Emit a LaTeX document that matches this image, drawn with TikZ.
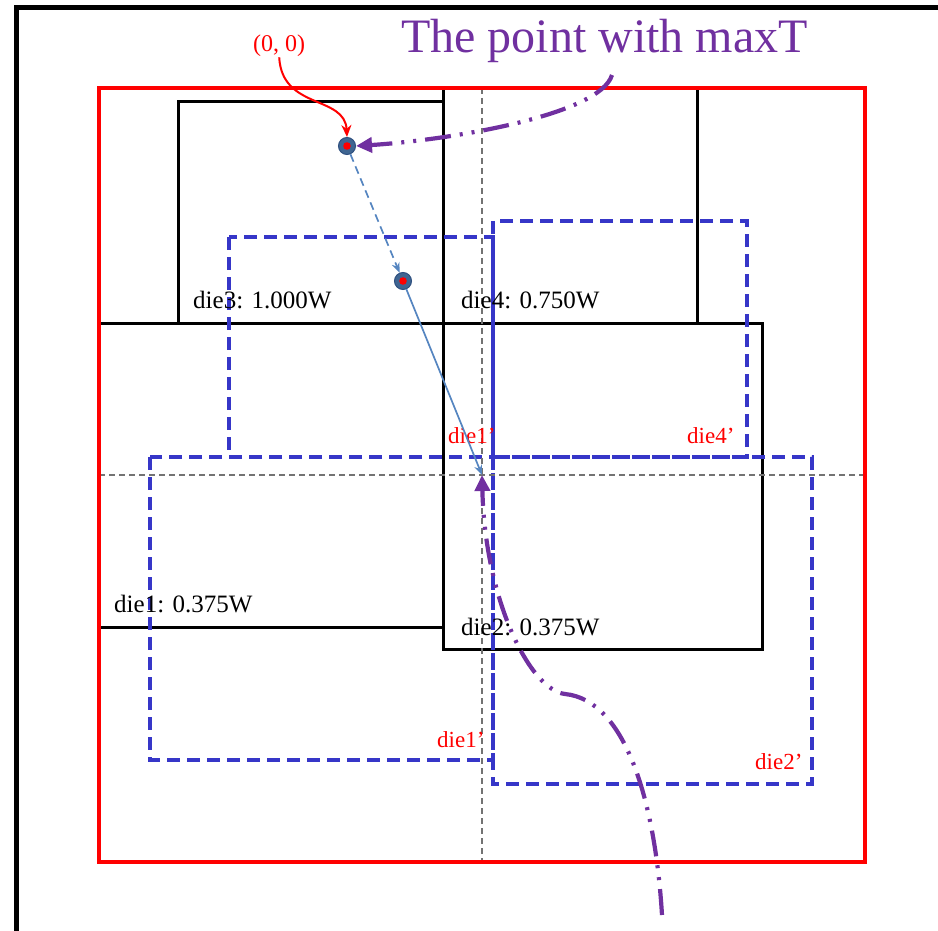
\documentclass[tikz,border=0pt]{standalone}
\usepackage{fontspec}
\setmainfont{Liberation Serif}
\usetikzlibrary{arrows.meta}
\definecolor{maxpurple}{HTML}{7030A0}
\definecolor{shiftblue}{HTML}{3636C8}
\definecolor{pathblue}{HTML}{5585C0}
\definecolor{spotfill}{HTML}{3F6591}
\definecolor{spotline}{HTML}{2F5080}

\begin{document}
\begin{tikzpicture}[
  x=1pt, y=-1pt,
  %--- shared styles ----------------------------------------------
  die/.style={draw=black, line width=3pt},
  shifted/.style={draw=shiftblue, line width=3.2pt,
    dash pattern=on 13pt off 7pt},
  axis/.style={draw=black!55, line width=1.4pt,
    dash pattern=on 6pt off 4pt},
  lbl/.style={anchor=base west, inner sep=0pt,
    font=\fontsize{25}{29}\selectfont},
  tag/.style={anchor=base west, inner sep=0pt, text=red,
    font=\fontsize{23}{27}\selectfont},
  spot/.style={circle, fill=spotfill, draw=spotline, line width=1pt,
    minimum size=17pt, inner sep=0pt},
  move/.style={pathblue, line width=1.7pt,
    -{Stealth[length=10pt,width=8pt]}},
  callout/.style={maxpurple, line width=4.2pt,
    dash pattern=on 26pt off 9pt on 3pt off 9pt on 3pt off 9pt,
    -{Triangle[length=16pt,width=15pt]}},
]
\useasboundingbox (0,0) rectangle (938,931);

%% --- outer frame (top and left only) ----------------------------
\draw[line width=5pt] (938,8) -- (16,8) -- (16,931);

%% --- dies --------------------------------------------------------
\draw[die] (178,102) rectangle (443,323);
\draw[die] (443,88)  rectangle (697,323);
\draw[die] (99,323)  rectangle (443,627);
\draw[die] (443,323) rectangle (762,649);

%% --- shifted dies (dashed) --------------------------------------
\draw[shifted] (229,237) rectangle (493,457);
\draw[shifted] (493,221) rectangle (747,457);
\draw[shifted] (150,457) rectangle (493,760);
\draw[shifted] (493,457) rectangle (812,784);

%% --- centre lines -----------------------------------------------
\draw[axis] (482,88) -- (482,862);
\draw[axis] (99,475) -- (865,475);
\coordinate (center) at (482,475);

%% --- interposer outline -----------------------------------------
\draw[red, line width=4.6pt] (99,88) rectangle (865,862);

%% --- die labels ---------------------------------------------------
\node[lbl] (d3) at (193,308) {die3: 1.000W};
\node[lbl] (d4) at (461,308) {die4: 0.750W};
\node[lbl] (d1) at (114,612) {die1: 0.375W};
\node[lbl] (d2) at (461,635) {die2: 0.375W};

\node[tag] (t3) at (448,443) {die1’};
\node[tag] (t4) at (687,443) {die4’};
\node[tag] (t1) at (437,747) {die1’};
\node[tag] (t2) at (755,769) {die2’};

\node[tag, font=\fontsize{24}{28}\selectfont] (origin) at (253,52) {(0, 0)};
\node[anchor=base west, inner sep=0pt, text=maxpurple,
  font=\fontsize{48}{55}\selectfont] (maxT) at (401,53) {The point with maxT};

%% --- points -------------------------------------------------------
\node[spot] (p0) at (347,146) {};
\node[spot] (p1) at (403,281) {};
\fill[red] (p0.center) circle (3.8);
\fill[red] (p1.center) circle (3.8);

%% --- arrows -------------------------------------------------------
% p0 -> p1 (dashed), p1 -> centre
\draw[move, dash pattern=on 8pt off 5pt] (p0) -- (p1);
\draw[move] (p1) -- (center);
% origin label -> p0
\draw[red, line width=2pt, -{Stealth[length=12pt,width=10pt]}]
  (origin.south) .. controls (282,110) and (345,95) .. (p0.north);
% maxT label -> p0
\coordinate (maxfoot) at (612,75);
\draw[callout] (maxfoot) .. controls (600,115) and (450,140) .. (p0.east);
% from below -> centre
\coordinate (tail) at (662,915);
\draw[callout] (tail) .. controls (655,800) and (625,700) .. (565,694)
  .. controls (530,690) and (485,600) .. (center);

\end{tikzpicture}
\end{document}
